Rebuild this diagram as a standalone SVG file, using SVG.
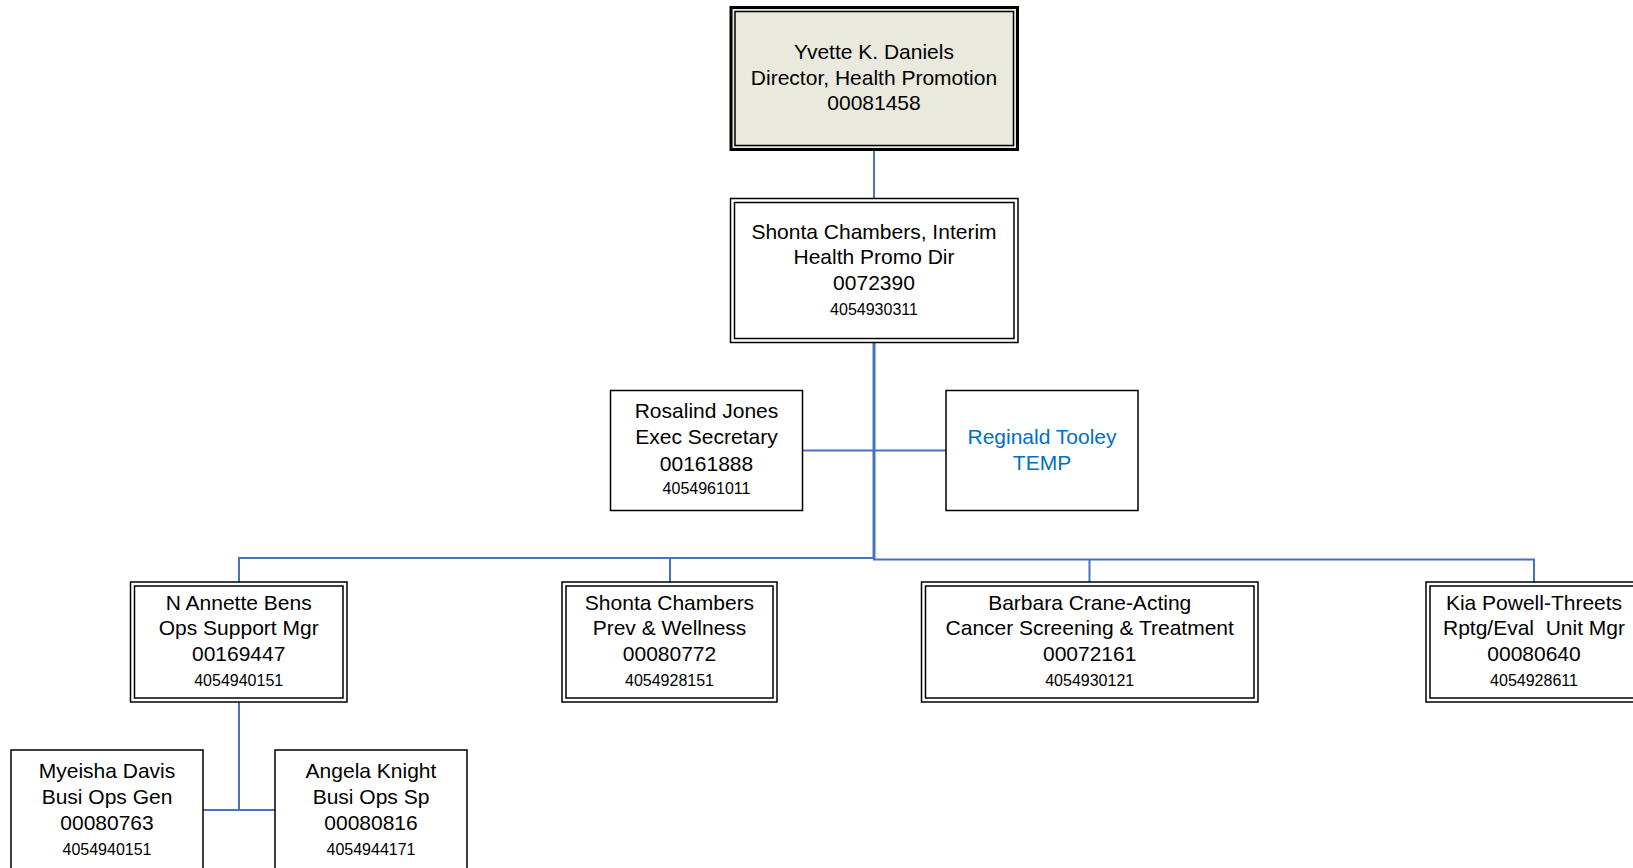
<svg xmlns="http://www.w3.org/2000/svg" width="1633" height="868" viewBox="0 0 1633 868">
<style>
.o{fill:#fff;stroke:#000;stroke-width:1.5}
.i{fill:none;stroke:#000;stroke-width:1.5}
.t{font-family:"Liberation Sans",Arial,sans-serif;font-size:21px;fill:#000;text-anchor:middle}
.s{font-size:16px}
.b{fill:#0070C0}
.c{stroke:#4472C4;stroke-width:2;fill:none}
</style>
<rect width="1633" height="868" fill="#fff"/>
<g id="connectors">
<line class="c" x1="874" y1="151" x2="874" y2="198.5"/>
<line class="c" x1="874" y1="342.5" x2="874" y2="559" style="stroke-width:3"/>
<line class="c" x1="802.5" y1="450.5" x2="946" y2="450.5"/>
<polyline class="c" points="239,582 239,558 875,558"/>
<line class="c" x1="670" y1="558" x2="670" y2="582"/>
<polyline class="c" points="873,559.5 1534,559.5 1534,582"/>
<line class="c" x1="1089.5" y1="559.5" x2="1089.5" y2="582"/>
<line class="c" x1="239" y1="702" x2="239" y2="810"/>
<line class="c" x1="203" y1="810" x2="275" y2="810"/>
</g>
<g id="n-daniels">
<rect x="731" y="7.5" width="286.5" height="142" fill="#E9E9DE" stroke="#000" stroke-width="3"/>
<rect class="i" x="735" y="11.5" width="278.5" height="134"/>
<text class="t" x="874" y="58.5">Yvette K. Daniels</text>
<text class="t" x="874" y="84.5">Director, Health Promotion</text>
<text class="t" x="874" y="110">00081458</text>
</g>
<g id="n-chambers-interim">
<rect class="o" x="730.5" y="198.5" width="287.5" height="144"/>
<rect class="i" x="734.5" y="202.5" width="279.5" height="136"/>
<text class="t" x="874" y="238.5">Shonta Chambers, Interim</text>
<text class="t" x="874" y="264">Health Promo Dir</text>
<text class="t" x="874" y="290">0072390</text>
<text class="t s" x="874" y="315">4054930311</text>
</g>
<g id="n-jones">
<rect class="o" x="610.5" y="390.5" width="192" height="120"/>
<text class="t" x="706.5" y="417.5">Rosalind Jones</text>
<text class="t" x="706.5" y="444">Exec Secretary</text>
<text class="t" x="706.5" y="470.5">00161888</text>
<text class="t s" x="706.5" y="494">4054961011</text>
</g>
<g id="n-tooley">
<rect class="o" x="946" y="390.5" width="192" height="120"/>
<text class="t b" x="1042" y="443.5">Reginald Tooley</text>
<text class="t b" x="1042" y="469.5">TEMP</text>
</g>
<g id="n-bens">
<rect class="o" x="130.5" y="582" width="216.5" height="120"/>
<rect class="i" x="134.5" y="586" width="208.5" height="112"/>
<text class="t" x="238.7" y="609.5">N Annette Bens</text>
<text class="t" x="238.7" y="635">Ops Support Mgr</text>
<text class="t" x="238.7" y="661">00169447</text>
<text class="t s" x="238.7" y="686">4054940151</text>
</g>
<g id="n-chambers">
<rect class="o" x="562" y="582" width="215" height="120"/>
<rect class="i" x="566" y="586" width="207" height="112"/>
<text class="t" x="669.5" y="609.5">Shonta Chambers</text>
<text class="t" x="669.5" y="635">Prev &amp; Wellness</text>
<text class="t" x="669.5" y="661">00080772</text>
<text class="t s" x="669.5" y="686">4054928151</text>
</g>
<g id="n-crane">
<rect class="o" x="921.5" y="582" width="336.5" height="120"/>
<rect class="i" x="925.5" y="586" width="328.5" height="112"/>
<text class="t" x="1089.7" y="609.5">Barbara Crane-Acting</text>
<text class="t" x="1089.7" y="635">Cancer Screening &amp; Treatment</text>
<text class="t" x="1089.7" y="661">00072161</text>
<text class="t s" x="1089.7" y="686">4054930121</text>
</g>
<g id="n-powell">
<rect class="o" x="1426" y="582" width="216" height="120"/>
<rect class="i" x="1430" y="586" width="208" height="112"/>
<text class="t" x="1534" y="609.5">Kia Powell-Threets</text>
<text class="t" x="1534" y="635" xml:space="preserve">Rptg/Eval  Unit Mgr</text>
<text class="t" x="1534" y="661">00080640</text>
<text class="t s" x="1534" y="686">4054928611</text>
</g>
<g id="n-davis">
<rect class="o" x="11" y="750" width="192" height="125"/>
<text class="t" x="107" y="778">Myeisha Davis</text>
<text class="t" x="107" y="804">Busi Ops Gen</text>
<text class="t" x="107" y="830">00080763</text>
<text class="t s" x="107" y="855">4054940151</text>
</g>
<g id="n-knight">
<rect class="o" x="275" y="750" width="192" height="125"/>
<text class="t" x="371" y="778">Angela Knight</text>
<text class="t" x="371" y="804">Busi Ops Sp</text>
<text class="t" x="371" y="830">00080816</text>
<text class="t s" x="371" y="855">4054944171</text>
</g>
</svg>
